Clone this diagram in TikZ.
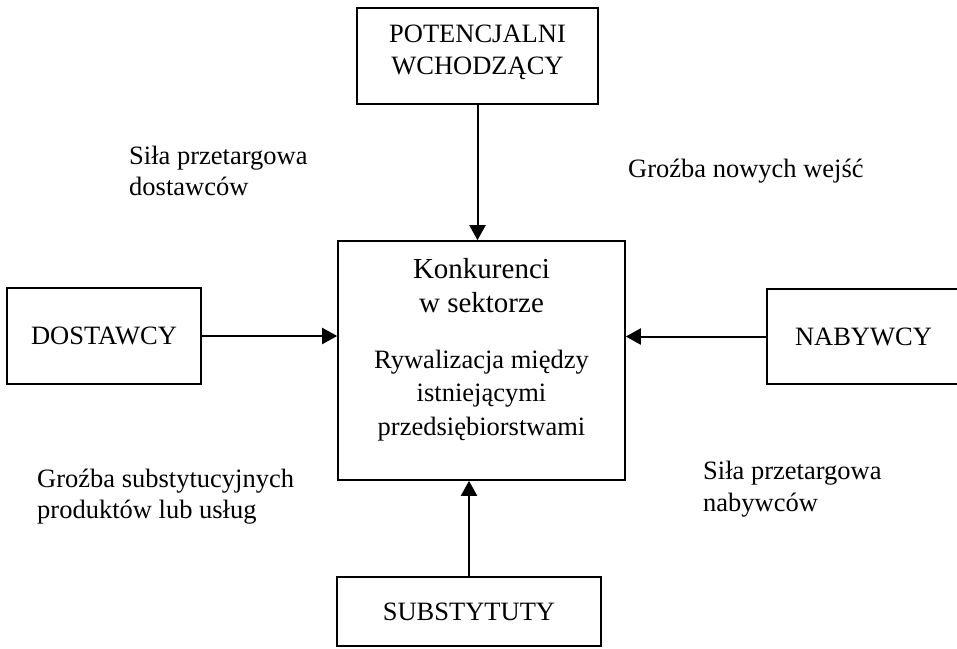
\documentclass[tikz,border=0pt]{standalone}
\usepackage{fontspec}
\setmainfont{Liberation Serif}
\usetikzlibrary{arrows.meta, calc}

\begin{document}
\begin{tikzpicture}[x=1pt, y=-1pt,
    forceBox/.style={draw=borderColour, line width=1.6pt, inner sep=0pt, align=center,
        font=\fontsize{26.5}{32}\selectfont},
    forceArrow/.style={draw=borderColour, line width=2pt, -{Triangle[length=15pt, width=16pt]}},
    forceLabel/.style={anchor=base west, align=left, inner sep=0pt,
        font=\fontsize{26.5}{30.5}\selectfont}]

    \definecolor{borderColour}{HTML}{000000}

    % Fix the page size
    \useasboundingbox (0,0) rectangle (957,648);

    % Draw the five forces
    \node[forceBox, minimum width=241pt, minimum height=96pt, text depth=13pt] (entrants) at (477.5,56) {POTENCJALNI\\WCHODZĄCY};
    \node[forceBox, minimum width=287pt, minimum height=239pt] (rivalry) at (481.5,360.5) {};
    \node[forceBox, minimum width=194pt, minimum height=96pt] (suppliers) at (104,336) {DOSTAWCY};
    \node[forceBox, minimum width=193pt, minimum height=95pt] (buyers) at (863.5,336.5) {NABYWCY};
    \node[forceBox, minimum width=264pt, minimum height=69pt] (substitutes) at (469,611.5) {SUBSTYTUTY};

    % Text of the central box (base = last line)
    \node[anchor=base, align=center, inner sep=0pt, font=\fontsize{29}{34}\selectfont] (rivalTitle) at (481.5,312) {Konkurenci\\w sektorze};
    \node[anchor=base, align=center, inner sep=0pt, font=\fontsize{26.5}{33.5}\selectfont] (rivalText) at (481.5,435) {Rywalizacja między\\istniejącymi\\przedsiębiorstwami};

    % Draw the arrows
    \draw[forceArrow] (entrants.south) -- (entrants.south |- rivalry.north);
    \draw[forceArrow] (suppliers.east) -- (suppliers.east -| rivalry.west);
    \draw[forceArrow] (buyers.west) -- (buyers.west -| rivalry.east);
    \draw[forceArrow] (substitutes.north) -- (substitutes.north |- rivalry.south);

    % Label the forces
    \node[forceLabel] (supplierPower) at (129,195) {Siła przetargowa\\dostawców};
    \node[forceLabel] (entryThreat) at (628,177) {Groźba nowych wejść};
    \node[forceLabel] (substituteThreat) at (37,518) {Groźba substytucyjnych\\produktów lub usług};
    \node[forceLabel, font=\fontsize{26.5}{32}\selectfont] (buyerPower) at (703,511) {Siła przetargowa\\nabywców};

\end{tikzpicture}
\end{document}
